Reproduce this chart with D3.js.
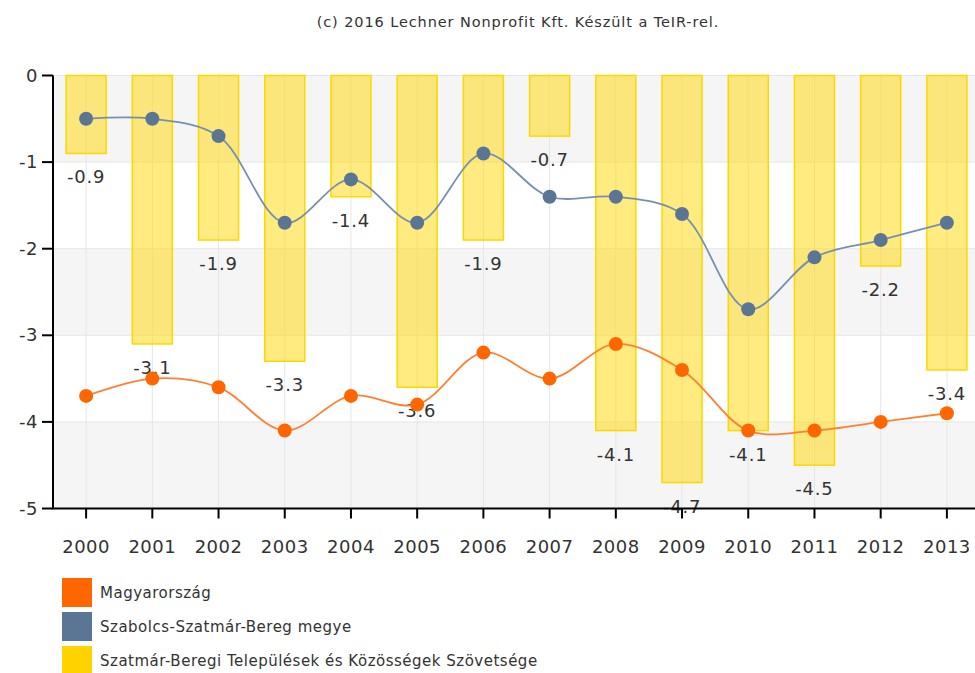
<!DOCTYPE html>
<html><head><meta charset="utf-8">
<script src="https://cdn.jsdelivr.net/npm/d3@7"></script>
<style>body{margin:0;background:#fff;}svg{display:block;font-family:"DejaVu Sans",Verdana,sans-serif;}</style>
</head><body>
<svg id="c" width="975" height="673"></svg>
<script>
const years = ["2000","2001","2002","2003","2004","2005","2006","2007","2008","2009","2010","2011","2012","2013"];
const szovetseg = [-0.9,-3.1,-1.9,-3.3,-1.4,-3.6,-1.9,-0.7,-4.1,-4.7,-4.1,-4.5,-2.2,-3.4];
const megye = [-0.5,-0.5,-0.7,-1.7,-1.2,-1.7,-0.9,-1.4,-1.4,-1.6,-2.7,-2.1,-1.9,-1.7];
const magyar = [-3.7,-3.5,-3.6,-4.1,-3.7,-3.8,-3.2,-3.5,-3.1,-3.4,-4.1,-4.1,-4.0,-3.9];
const yTicks = [0,-1,-2,-3,-4,-5];
const legendNames = ["Magyarország","Szabolcs-Szatmár-Bereg megye","Szatmár-Beregi Települések és Közösségek Szövetsége"];
const legendColors = ["#ff6600","#5b7595","#ffd200"];
const title = "(c) 2016 Lechner Nonprofit Kft. Készült a TeIR-rel.";

const svg = d3.select("#c");
const L = 53, T = 75.5, W = 927, H = 433;
const x = d3.scaleBand().domain(years).range([L, L + W]);
const y = d3.scaleLinear().domain([0, -5]).range([T, T + H]);

svg.append("text").attr("x", 518).attr("y", 27).attr("text-anchor", "middle")
  .attr("font-size", 14.5).attr("letter-spacing", 0.9).attr("fill", "#333").text(title);

const g = svg.append("g");
for (let i = 0; i < yTicks.length - 1; i++) {
  g.append("rect").attr("x", L).attr("width", W)
    .attr("y", y(yTicks[i])).attr("height", y(yTicks[i+1]) - y(yTicks[i]))
    .attr("fill", i % 2 === 0 ? "#f5f5f5" : "#ffffff");
}
g.selectAll(".hg").data(yTicks).join("line")
  .attr("x1", L).attr("x2", L + W).attr("y1", d => y(d)).attr("y2", d => y(d))
  .attr("stroke", "#e6e6e6").attr("stroke-width", 1);
g.selectAll(".vg").data(years).join("line")
  .attr("x1", d => x(d) + x.bandwidth()/2).attr("x2", d => x(d) + x.bandwidth()/2)
  .attr("y1", T).attr("y2", T + H).attr("stroke", "#e6e6e6").attr("stroke-width", 1);

const bw = 40;
g.selectAll(".bar").data(szovetseg).join("rect")
  .attr("x", (d, i) => x(years[i]) + x.bandwidth()/2 - bw/2)
  .attr("width", bw)
  .attr("y", y(0)).attr("height", d => y(d) - y(0))
  .attr("fill", "rgba(255,215,0,0.5)").attr("stroke", "#ffd700").attr("stroke-width", 1.5);

g.selectAll(".bl").data(szovetseg).join("text")
  .attr("x", (d, i) => x(years[i]) + x.bandwidth()/2)
  .attr("y", d => y(d) + 30)
  .attr("text-anchor", "middle").attr("font-size", 18).attr("letter-spacing", 0.8).attr("fill", "#333")
  .text(d => d.toFixed(1));

const curve = d3.curveCatmullRom.alpha(0.5);
function series(vals, lineColor, dotColor) {
  const line = d3.line().x((d, i) => x(years[i]) + x.bandwidth()/2).y(d => y(d)).curve(curve);
  g.append("path").attr("d", line(vals)).attr("fill", "none")
    .attr("stroke", lineColor).attr("stroke-width", 1.8);
  g.selectAll(null).data(vals).join("circle")
    .attr("cx", (d, i) => x(years[i]) + x.bandwidth()/2).attr("cy", d => y(d))
    .attr("r", 7).attr("fill", dotColor);
}
series(megye, "#7890af", "#5b7595");
series(magyar, "#ff8030", "#ff6600");

const ax = svg.append("g");
ax.append("line").attr("x1", L).attr("x2", L).attr("y1", T).attr("y2", T + H).attr("stroke", "#000").attr("stroke-width", 2);
ax.append("line").attr("x1", L - 1).attr("x2", 975).attr("y1", T + H).attr("y2", T + H).attr("stroke", "#000").attr("stroke-width", 2);
ax.selectAll(".yt").data(yTicks).join("line")
  .attr("x1", L - 11).attr("x2", L).attr("y1", d => y(d)).attr("y2", d => y(d)).attr("stroke", "#000").attr("stroke-width", 2);
ax.selectAll(".ytl").data(yTicks).join("text")
  .attr("x", 38).attr("y", d => y(d) + 6).attr("text-anchor", "end")
  .attr("font-size", 18).attr("letter-spacing", 0.5).attr("fill", "#333").text(d => d);
ax.selectAll(".xt").data(years).join("line")
  .attr("x1", d => x(d) + x.bandwidth()/2).attr("x2", d => x(d) + x.bandwidth()/2)
  .attr("y1", T + H).attr("y2", T + H + 10).attr("stroke", "#000").attr("stroke-width", 2);
ax.selectAll(".xtl").data(years).join("text")
  .attr("x", d => x(d) + x.bandwidth()/2).attr("y", T + H + 44).attr("text-anchor", "middle")
  .attr("font-size", 18).attr("letter-spacing", 0.5).attr("fill", "#333").text(d => d);

const lg = svg.append("g");
legendNames.forEach((n, i) => {
  const yy = 578 + i * 34;
  lg.append("rect").attr("x", 62).attr("y", yy).attr("width", 30).attr("height", 29).attr("fill", legendColors[i]);
  lg.append("text").attr("x", 100).attr("y", yy + 20).attr("font-size", 15).attr("letter-spacing", 0.5).attr("fill", "#333").text(n);
});
</script>
</body></html>
